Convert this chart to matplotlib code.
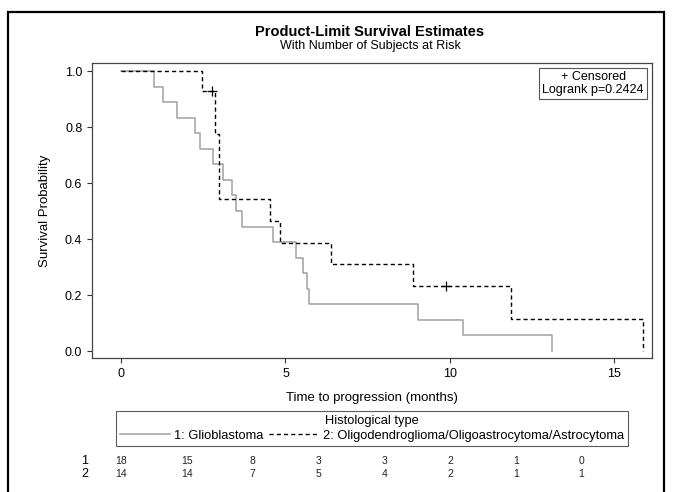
import matplotlib
matplotlib.use("Agg")
import matplotlib.pyplot as plt
from matplotlib.patches import Rectangle
from matplotlib.transforms import blended_transform_factory

plt.rcParams['font.family'] = ['Liberation Sans', 'DejaVu Sans']

# Kaplan-Meier step data
glio_time = [0, 1.01, 1.27, 1.69, 2.25, 2.40, 2.81, 3.11, 3.39, 3.50, 3.69,
             4.61, 5.31, 5.54, 5.66, 5.72, 9.03, 10.40, 13.10]
glio_surv = [1.0, 0.944, 0.889, 0.833, 0.778, 0.722, 0.667, 0.611, 0.556, 0.500,
             0.444, 0.389, 0.333, 0.278, 0.222, 0.167, 0.111, 0.056, 0.0]

oligo_time = [0, 2.45, 2.86, 2.99, 4.53, 4.83, 6.38, 8.89, 11.85, 15.87]
oligo_surv = [1.0, 0.929, 0.774, 0.542, 0.465, 0.387, 0.310, 0.232, 0.116, 0.0]
oligo_cens_time = [2.78, 9.87]
oligo_cens_surv = [0.929, 0.232]

risk_times = [0, 2, 4, 6, 8, 10, 12, 14]
risk_glio = [18, 15, 8, 3, 3, 2, 1, 0]
risk_oligo = [14, 14, 7, 5, 4, 2, 1, 1]

labels = ['1: Glioblastoma', '2: Oligodendroglioma/Oligoastrocytoma/Astrocytoma']

W, H = 673, 492
fig = plt.figure(figsize=(W / 100, H / 100), dpi=100)
ax = fig.add_axes([92 / W, 1 - 358 / H, (652 - 92) / W, (358 - 63) / H])

ax.step(glio_time, glio_surv, where='post', color='#a0a0a0', lw=1.1, label=labels[0])
ax.step(oligo_time, oligo_surv, where='post', color='black', lw=1.0,
        dashes=(3, 2.2), label=labels[1])
ax.plot(oligo_cens_time, oligo_cens_surv, ls='none', marker='+', color='black',
        ms=7, mew=0.9)

ax.set_xlim(-0.88, 16.14)
ax.set_ylim(-0.025, 1.029)
ax.set_xticks([0, 5, 10, 15])
ax.set_yticks([0.0, 0.2, 0.4, 0.6, 0.8, 1.0])
ax.set_yticklabels(['0.0', '0.2', '0.4', '0.6', '0.8', '1.0'])
ax.tick_params(direction='out', length=3.5, width=0.8, labelsize=9, colors='#333333',
               labelcolor='black')
for sp in ax.spines.values():
    sp.set_color('#444444')
    sp.set_linewidth(0.9)

ax.set_xlabel('Time to progression (months)', fontsize=9.5, labelpad=9)
ax.set_ylabel('Survival Probability', fontsize=9.5, labelpad=10)

fig.text(370 / W, 1 - 32 / H, 'Product-Limit Survival Estimates', ha='center',
         va='center', fontsize=10.5, fontweight='bold')
fig.text(370 / W, 1 - 46.5 / H, 'With Number of Subjects at Risk', ha='center',
         va='center', fontsize=9)

ax.text(0.9857, 0.973, '+ Censored\nLogrank p=0.2424', transform=ax.transAxes,
        ha='right', va='top', multialignment='center', fontsize=9, linespacing=1.1,
        bbox=dict(boxstyle='square,pad=0.25', fc='white', ec='#555555', lw=0.8))

leg = fig.legend(loc='upper center', bbox_to_anchor=(372 / W, 1 - 411 / H), ncol=2,
                 title='Histological type', fontsize=9.3, title_fontsize=9.3,
                 handlelength=3.9, handletextpad=0.3, columnspacing=0.4,
                 borderpad=0.3, borderaxespad=0, labelspacing=0.2,
                 frameon=True, fancybox=False, edgecolor='#333333')
leg.get_frame().set_linewidth(0.8)
leg._legend_box.sep = 2

# number at risk rows
trans = blended_transform_factory(ax.transData, fig.transFigure)
for y, name, vals in [(461, '1', risk_glio), (474, '2', risk_oligo)]:
    fig.text(85 / W, 1 - y / H, name, ha='center', va='center', fontsize=9)
    for t, v in zip(risk_times, vals):
        ax.text(t, 1 - y / H, str(v), transform=trans, ha='center', va='center',
                fontsize=7.5, color='#222222')

# outer frame
fig.patches.append(Rectangle((8 / W, -0.1), (664 - 8) / W, 1.1 - 12 / H,
                             transform=fig.transFigure, fill=False, ec='black',
                             lw=1.6, clip_on=False))

fig.savefig('out.png', dpi=100)
